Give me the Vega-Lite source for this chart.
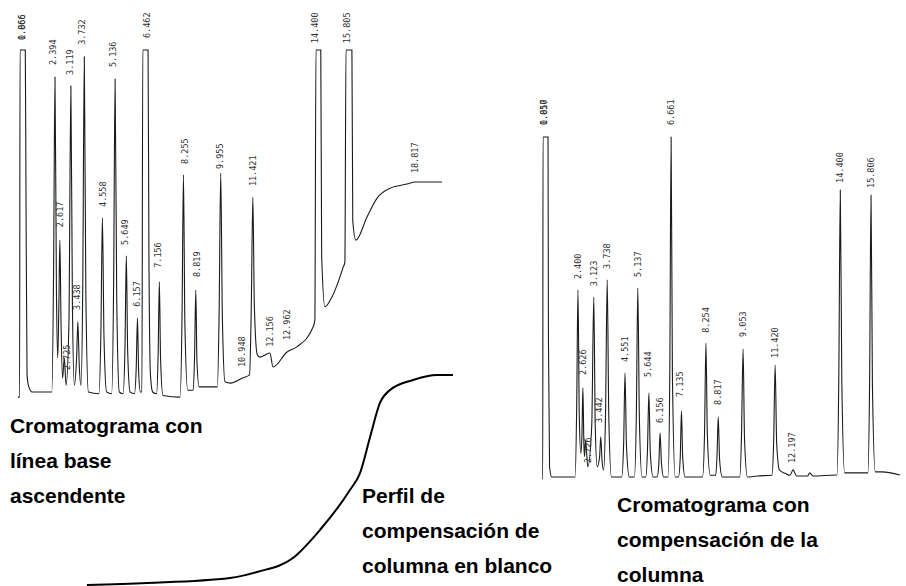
{
  "$schema": "https://vega.github.io/schema/vega-lite/v6.json",
  "width": 906,
  "height": 586,
  "padding": 0,
  "autosize": "none",
  "background": "white",
  "config": {"view": {"stroke": null}},
  "datasets": {
    "left": [
      {"t":0.70,"s":-1.5},{"t":0.78,"s":-1.5},{"t":0.80,"s":100},{"t":1.04,"s":100},{"t":1.07,"s":60},{"t":1.12,"s":5},{"t":1.20,"s":1.5},{"t":1.35,"s":0},{"t":2.25,"s":0},{"t":2.33,"s":35},{"t":2.394,"s":92.1},{"t":2.46,"s":30},{"t":2.52,"s":10},{"t":2.57,"s":25},{"t":2.617,"s":44.4},{"t":2.67,"s":20},{"t":2.74,"s":4},{"t":2.82,"s":10},{"t":2.90,"s":2},{"t":3.03,"s":20},{"t":3.119,"s":89.5},{"t":3.19,"s":25},{"t":3.28,"s":2},{"t":3.38,"s":10},{"t":3.438,"s":20.5},{"t":3.50,"s":8},{"t":3.58,"s":2},{"t":3.66,"s":30},{"t":3.732,"s":98},{"t":3.80,"s":30},{"t":3.92,"s":0},{"t":4.40,"s":-0.5},{"t":4.49,"s":18},{"t":4.558,"s":50.9},{"t":4.63,"s":16},{"t":4.75,"s":0},{"t":4.98,"s":-0.5},{"t":5.07,"s":32},{"t":5.136,"s":91.5},{"t":5.21,"s":28},{"t":5.33,"s":0},{"t":5.50,"s":-0.5},{"t":5.59,"s":14},{"t":5.649,"s":39.8},{"t":5.71,"s":12},{"t":5.82,"s":0},{"t":6.02,"s":-0.5},{"t":6.10,"s":7},{"t":6.157,"s":21.6},{"t":6.21,"s":6},{"t":6.29,"s":0},{"t":6.36,"s":0},{"t":6.40,"s":100},{"t":6.64,"s":100},{"t":6.68,"s":40},{"t":6.75,"s":5},{"t":6.85,"s":0},{"t":7.03,"s":-0.5},{"t":7.10,"s":11},{"t":7.156,"s":32.2},{"t":7.21,"s":10},{"t":7.32,"s":-1},{"t":8.10,"s":-1.5},{"t":8.19,"s":22},{"t":8.255,"s":63.5},{"t":8.32,"s":20},{"t":8.45,"s":0.5},{"t":8.70,"s":0.5},{"t":8.76,"s":10},{"t":8.819,"s":29.8},{"t":8.87,"s":9},{"t":8.97,"s":1.5},{"t":9.80,"s":1.5},{"t":9.88,"s":22},{"t":9.955,"s":64},{"t":10.03,"s":22},{"t":10.15,"s":3},{"t":10.4,"s":2.6},{"t":10.95,"s":4.1},{"t":11.27,"s":5},{"t":11.35,"s":25},{"t":11.421,"s":57},{"t":11.49,"s":25},{"t":11.62,"s":11},{"t":11.75,"s":10.2},{"t":12.2,"s":11.4},{"t":12.34,"s":7.3},{"t":12.98,"s":11.7},{"t":13.43,"s":13.2},{"t":14.17,"s":19},{"t":14.25,"s":21},{"t":14.30,"s":100},{"t":14.52,"s":100},{"t":14.56,"s":40},{"t":14.71,"s":24.9},{"t":15.03,"s":27.8},{"t":15.3,"s":31.9},{"t":15.53,"s":36.3},{"t":15.62,"s":38},{"t":15.67,"s":100},{"t":15.94,"s":100},{"t":15.98,"s":50},{"t":16.12,"s":44.4},{"t":16.63,"s":51.2},{"t":17.09,"s":56.7},{"t":17.68,"s":59.6},{"t":18.45,"s":60.8},{"t":18.82,"s":61.4},{"t":20.05,"s":61.4}
    ],
    "leftLabels": [
      {"t":0.89,"s":102.9,"label":"1.066"},{"t":0.89,"s":102.9,"label":"0.866"},{"t":2.30,"s":95.6,"label":"2.394"},{"t":2.62,"s":48.2,"label":"2.617"},{"t":2.94,"s":6.4,"label":"2.725"},{"t":3.08,"s":92.7,"label":"3.119"},{"t":3.40,"s":24.0,"label":"3.438"},{"t":3.63,"s":101.5,"label":"3.732"},{"t":4.58,"s":54.1,"label":"4.558"},{"t":5.04,"s":95.0,"label":"5.136"},{"t":5.59,"s":43.0,"label":"5.649"},{"t":6.14,"s":24.9,"label":"6.157"},{"t":6.59,"s":103.5,"label":"6.462"},{"t":7.09,"s":36.3,"label":"7.156"},{"t":8.33,"s":66.7,"label":"8.255"},{"t":8.87,"s":33.6,"label":"8.819"},{"t":9.92,"s":65.2,"label":"9.955"},{"t":10.93,"s":7.3,"label":"10.948"},{"t":11.43,"s":60.2,"label":"11.421"},{"t":12.20,"s":13.2,"label":"12.156"},{"t":12.98,"s":15.2,"label":"12.962"},{"t":14.26,"s":102.0,"label":"14.400"},{"t":15.72,"s":102.0,"label":"15.805"},{"t":18.82,"s":64.0,"label":"18.817"}
    ],
    "right": [
      {"t":0.75,"s":-0.5},{"t":0.79,"s":-0.5},{"t":0.80,"s":100},{"t":1.03,"s":100},{"t":1.05,"s":40},{"t":1.10,"s":3},{"t":1.20,"s":0},{"t":2.27,"s":0},{"t":2.34,"s":20},{"t":2.40,"s":55},{"t":2.46,"s":18},{"t":2.53,"s":7},{"t":2.58,"s":12},{"t":2.626,"s":26.2},{"t":2.67,"s":10},{"t":2.70,"s":6},{"t":2.75,"s":10.9},{"t":2.85,"s":3},{"t":3.03,"s":15},{"t":3.123,"s":52.9},{"t":3.19,"s":15},{"t":3.28,"s":3},{"t":3.39,"s":6},{"t":3.442,"s":11.8},{"t":3.50,"s":5},{"t":3.57,"s":2},{"t":3.66,"s":18},{"t":3.738,"s":58},{"t":3.81,"s":18},{"t":3.93,"s":0},{"t":4.40,"s":0},{"t":4.49,"s":10},{"t":4.551,"s":30.6},{"t":4.62,"s":9},{"t":4.75,"s":0},{"t":4.98,"s":0},{"t":5.07,"s":18},{"t":5.137,"s":55.6},{"t":5.21,"s":17},{"t":5.33,"s":0},{"t":5.50,"s":0},{"t":5.58,"s":8},{"t":5.644,"s":24.7},{"t":5.71,"s":7},{"t":5.84,"s":0},{"t":6.02,"s":0},{"t":6.10,"s":4},{"t":6.156,"s":12.9},{"t":6.22,"s":4},{"t":6.32,"s":0},{"t":6.52,"s":0},{"t":6.60,"s":30},{"t":6.661,"s":100},{"t":6.72,"s":30},{"t":6.85,"s":0},{"t":7.00,"s":0},{"t":7.08,"s":6},{"t":7.135,"s":19.4},{"t":7.19,"s":6},{"t":7.30,"s":0},{"t":8.10,"s":0},{"t":8.19,"s":13},{"t":8.254,"s":39.4},{"t":8.32,"s":12},{"t":8.45,"s":0.5},{"t":8.70,"s":0.5},{"t":8.76,"s":6},{"t":8.817,"s":17.6},{"t":8.88,"s":5},{"t":9.00,"s":0},{"t":9.80,"s":0},{"t":9.88,"s":12},{"t":9.953,"s":37.6},{"t":10.02,"s":11},{"t":10.15,"s":0},{"t":10.6,"s":0.3},{"t":11.27,"s":0.5},{"t":11.35,"s":10},{"t":11.42,"s":32.9},{"t":11.49,"s":10},{"t":11.62,"s":2},{"t":11.9,"s":1},{"t":12.10,"s":0.5},{"t":12.24,"s":2.1},{"t":12.40,"s":0.3},{"t":12.9,"s":0.3},{"t":13.0,"s":1.2},{"t":13.15,"s":0.3},{"t":14.2,"s":0.6},{"t":14.25,"s":0.6},{"t":14.33,"s":28},{"t":14.40,"s":84.4},{"t":14.47,"s":28},{"t":14.6,"s":1.2},{"t":15.5,"s":1.2},{"t":15.66,"s":1.2},{"t":15.74,"s":27},{"t":15.806,"s":82.9},{"t":15.87,"s":27},{"t":16.0,"s":1.5},{"t":16.3,"s":1.5},{"t":17.13,"s":0.6}
    ],
    "rightLabels": [
      {"t":0.85,"s":103.5,"label":"1.017"},{"t":0.85,"s":103.5,"label":"0.850"},{"t":2.40,"s":58.2,"label":"2.400"},{"t":2.626,"s":30.0,"label":"2.626"},{"t":2.86,"s":4.1,"label":"2.726"},{"t":3.123,"s":56.1,"label":"3.123"},{"t":3.36,"s":15.9,"label":"3.442"},{"t":3.738,"s":61.2,"label":"3.738"},{"t":4.551,"s":33.8,"label":"4.551"},{"t":5.137,"s":58.8,"label":"5.137"},{"t":5.60,"s":29.4,"label":"5.644"},{"t":6.156,"s":15.9,"label":"6.156"},{"t":6.661,"s":103.5,"label":"6.661"},{"t":7.07,"s":23.5,"label":"7.135"},{"t":8.254,"s":42.4,"label":"8.254"},{"t":8.817,"s":21.2,"label":"8.817"},{"t":9.953,"s":41.2,"label":"9.053"},{"t":11.42,"s":35.0,"label":"11.420"},{"t":12.19,"s":4.1,"label":"12.197"},{"t":14.39,"s":86.5,"label":"14.400"},{"t":15.80,"s":85.0,"label":"15.806"}
    ],
    "blank": [
      {"t":3.85,"s":0},{"t":6.59,"s":0.95},{"t":10.38,"s":3.33},{"t":11.61,"s":6.19},{"t":13.25,"s":12.86},{"t":14.48,"s":26.2},{"t":15.85,"s":45.2},{"t":16.31,"s":53.3},{"t":16.77,"s":70.5},{"t":17.22,"s":86.7},{"t":17.68,"s":92.9},{"t":18.73,"s":97.6},{"t":19.82,"s":100},{"t":20.55,"s":100}
    ],
    "captions": [
      {"panel":"left","t":0.34,"s":-12.0,"text":"Cromatograma con\nlínea base\nascendente"},
      {"panel":"blank","t":16.4,"s":39.0,"text":"Perfil de\ncompensación de\ncolumna en blanco"},
      {"panel":"right","t":4.19,"s":-10.3,"text":"Cromatograma con\ncompensación de la\ncolumna"}
    ]
  },
  "layer": [
    {
      "data": {"name": "left"},
      "mark": {"type": "line", "interpolate": "monotone", "color": "#1a1a1a", "strokeWidth": 1.1},
      "encoding": {
        "x": {"field": "t", "type": "quantitative", "axis": null, "scale": {"domain": [-0.1141, 41.218], "nice": false, "zero": false}},
        "y": {"field": "s", "type": "quantitative", "axis": null, "scale": {"domain": [-56.725, 114.62], "nice": false, "zero": false}},
        "order": {"field": "t"}
      }
    },
    {
      "data": {"name": "leftLabels"},
      "mark": {"type": "text", "angle": 270, "align": "left", "baseline": "middle", "font": "DejaVu Sans Mono", "fontSize": 8.5, "color": "#333"},
      "encoding": {
        "x": {"field": "t", "type": "quantitative", "axis": null, "scale": {"domain": [-0.1141, 41.218], "nice": false, "zero": false}},
        "y": {"field": "s", "type": "quantitative", "axis": null, "scale": {"domain": [-56.725, 114.62], "nice": false, "zero": false}},
        "text": {"field": "label"}
      }
    },
    {
      "data": {"name": "right"},
      "mark": {"type": "line", "interpolate": "monotone", "color": "#1a1a1a", "strokeWidth": 1.1},
      "encoding": {
        "x": {"field": "t", "type": "quantitative", "axis": null, "scale": {"domain": [-24.039, 17.406], "nice": false, "zero": false}},
        "y": {"field": "s", "type": "quantitative", "axis": null, "scale": {"domain": [-32.06, 140.29], "nice": false, "zero": false}},
        "order": {"field": "t"}
      }
    },
    {
      "data": {"name": "rightLabels"},
      "mark": {"type": "text", "angle": 270, "align": "left", "baseline": "middle", "font": "DejaVu Sans Mono", "fontSize": 8.5, "color": "#333"},
      "encoding": {
        "x": {"field": "t", "type": "quantitative", "axis": null, "scale": {"domain": [-24.039, 17.406], "nice": false, "zero": false}},
        "y": {"field": "s", "type": "quantitative", "axis": null, "scale": {"domain": [-32.06, 140.29], "nice": false, "zero": false}},
        "text": {"field": "label"}
      }
    },
    {
      "data": {"name": "blank"},
      "mark": {"type": "line", "interpolate": "monotone", "color": "#000", "strokeWidth": 2},
      "encoding": {
        "x": {"field": "t", "type": "quantitative", "axis": null, "scale": {"domain": [-0.1141, 41.218], "nice": false, "zero": false}},
        "y": {"field": "s", "type": "quantitative", "axis": null, "scale": {"domain": [-0.476, 278.57], "nice": false, "zero": false}},
        "order": {"field": "t"}
      }
    },
    {
      "data": {"name": "captions"},
      "transform": [{"filter": "datum.panel === 'left'"}],
      "mark": {"type": "text", "align": "left", "baseline": "alphabetic", "lineBreak": "\n", "lineHeight": 35, "font": "Liberation Sans", "fontWeight": "bold", "fontSize": 21, "color": "#000"},
      "encoding": {
        "x": {"field": "t", "type": "quantitative", "axis": null, "scale": {"domain": [-0.1141, 41.218], "nice": false, "zero": false}},
        "y": {"field": "s", "type": "quantitative", "axis": null, "scale": {"domain": [-56.725, 114.62], "nice": false, "zero": false}},
        "text": {"field": "text"}
      }
    },
    {
      "data": {"name": "captions"},
      "transform": [{"filter": "datum.panel === 'blank'"}],
      "mark": {"type": "text", "align": "left", "baseline": "alphabetic", "lineBreak": "\n", "lineHeight": 35, "font": "Liberation Sans", "fontWeight": "bold", "fontSize": 21, "color": "#000"},
      "encoding": {
        "x": {"field": "t", "type": "quantitative", "axis": null, "scale": {"domain": [-0.1141, 41.218], "nice": false, "zero": false}},
        "y": {"field": "s", "type": "quantitative", "axis": null, "scale": {"domain": [-0.476, 278.57], "nice": false, "zero": false}},
        "text": {"field": "text"}
      }
    },
    {
      "data": {"name": "captions"},
      "transform": [{"filter": "datum.panel === 'right'"}],
      "mark": {"type": "text", "align": "left", "baseline": "alphabetic", "lineBreak": "\n", "lineHeight": 35, "font": "Liberation Sans", "fontWeight": "bold", "fontSize": 21, "color": "#000"},
      "encoding": {
        "x": {"field": "t", "type": "quantitative", "axis": null, "scale": {"domain": [-24.039, 17.406], "nice": false, "zero": false}},
        "y": {"field": "s", "type": "quantitative", "axis": null, "scale": {"domain": [-32.06, 140.29], "nice": false, "zero": false}},
        "text": {"field": "text"}
      }
    }
  ],
  "resolve": {"scale": {"x": "independent", "y": "independent"}}
}
